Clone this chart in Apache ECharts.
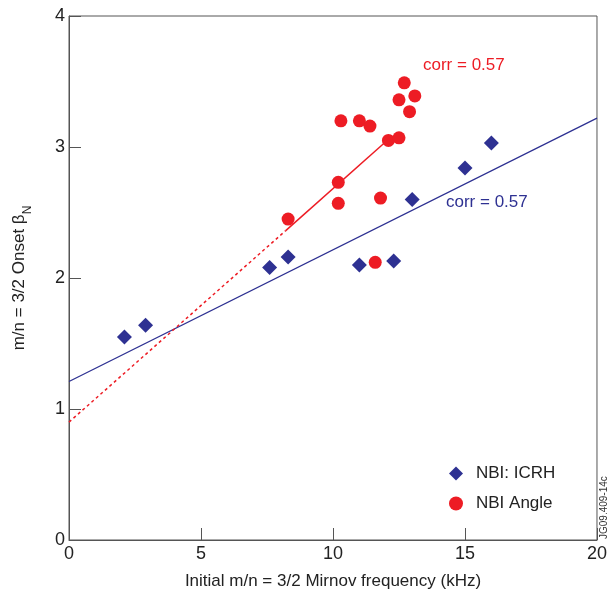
<!DOCTYPE html>
<html><head><meta charset="utf-8">
<script src="https://cdn.jsdelivr.net/npm/echarts@6/dist/echarts.min.js"></script>
<style>html,body{margin:0;padding:0;background:#fff}#c{width:610px;height:600px}</style>
</head><body><div id="c"></div>
<script>
// Data
const icrhX = [2.1, 2.9, 7.6, 8.3, 11.0, 12.3, 13.0, 15.0, 16.0];
const icrhY = [1.55, 1.64, 2.08, 2.16, 2.10, 2.13, 2.60, 2.84, 3.03];
const angleX = [8.3, 10.2, 10.2, 10.3, 11.0, 11.4, 12.1, 11.8, 11.6, 12.5, 12.5, 12.7, 12.9, 13.1];
const angleY = [2.45, 2.73, 2.57, 3.20, 3.20, 3.16, 3.05, 2.61, 2.12, 3.07, 3.36, 3.49, 3.27, 3.39];
const blueFitX = [0, 20];
const blueFitY = [1.21, 3.22];
const redDashX = [0, 8.2];
const redDashY = [0.90, 2.36];
const redSolidX = [8.2, 12.05];
const redSolidY = [2.36, 3.05];
const xTicks = [0, 5, 10, 15, 20];
const yTicks = [0, 1, 2, 3, 4];

const BLUE = '#2e3192', RED = '#ed1c24', AX = '#555';
const zip = (a, b) => a.map((v, i) => [v, b[i]]);
const FONT = 'Liberation Sans, Arial, sans-serif';

const chart = echarts.init(document.getElementById('c'), null, {renderer: 'canvas'});
chart.setOption({
  animation: false,
  textStyle: {fontFamily: FONT},
  grid: {left: 69, right: 13, top: 16, bottom: 60, show: true, borderColor: AX, borderWidth: 1},
  xAxis: {
    type: 'value', min: xTicks[0], max: xTicks[xTicks.length - 1], interval: 5,
    axisLine: {show: true, lineStyle: {color: AX}},
    axisTick: {show: true, inside: true, length: 12, lineStyle: {color: AX}},
    axisLabel: {color: '#222', fontSize: 18, margin: 5, fontFamily: FONT},
    splitLine: {show: false},
    name: 'Initial m/n = 3/2 Mirnov frequency (kHz)', nameLocation: 'middle', nameGap: 33,
    nameTextStyle: {color: '#222', fontSize: 17, fontFamily: FONT}
  },
  yAxis: {
    type: 'value', min: yTicks[0], max: yTicks[yTicks.length - 1], interval: 1,
    axisLine: {show: true, lineStyle: {color: AX}},
    axisTick: {show: true, inside: true, length: 12, lineStyle: {color: AX}},
    axisLabel: {color: '#222', fontSize: 18, margin: 4, fontFamily: FONT},
    splitLine: {show: false},
    name: '{a|m/n = 3/2 Onset β}{s|N}', nameLocation: 'middle', nameGap: 41, nameRotate: 90,
    nameTextStyle: {color: '#222', fontSize: 17, fontFamily: FONT,
      rich: {a: {fontSize: 17, color: '#222', fontFamily: FONT},
             s: {fontSize: 12, color: '#222', fontFamily: FONT, verticalAlign: 'bottom', padding: [0, 0, -6, 0]}}}
  },
  legend: {
    orient: 'vertical', left: 444, top: 460, itemGap: 13, itemWidth: 14, itemHeight: 14,
    textStyle: {color: '#222', fontSize: 17, fontFamily: FONT, padding: [0, 0, 0, 8]},
    data: [{name: 'NBI: ICRH', icon: 'diamond'}, {name: 'NBI Angle', icon: 'circle'}]
  },
  series: [
    {type: 'line', data: zip(blueFitX, blueFitY), symbol: 'none', lineStyle: {color: BLUE, width: 1.3}, silent: true, z: 1},
    {type: 'line', data: zip(redDashX, redDashY), symbol: 'none', lineStyle: {color: RED, width: 1.5, type: [3, 3]}, silent: true, z: 1},
    {type: 'line', data: zip(redSolidX, redSolidY), symbol: 'none', lineStyle: {color: RED, width: 1.5}, silent: true, z: 1},
    {name: 'NBI: ICRH', type: 'scatter', symbol: 'diamond', symbolSize: 15, itemStyle: {color: BLUE, opacity: 1}, data: zip(icrhX, icrhY), z: 3},
    {name: 'NBI Angle', type: 'scatter', symbol: 'circle', symbolSize: 13, itemStyle: {color: RED, opacity: 1}, data: zip(angleX, angleY), z: 4}
  ],
  graphic: [
    {type: 'text', left: 423, top: 57, style: {text: 'corr = 0.57', fill: RED, font: '17px ' + FONT}},
    {type: 'text', left: 446, top: 194, style: {text: 'corr = 0.57', fill: BLUE, font: '17px ' + FONT}},
    {type: 'text', x: 604, y: 539, rotation: Math.PI / 2, style: {text: 'JG09.409-14c', fill: '#333', font: '10px ' + FONT, align: 'left', verticalAlign: 'middle'}}
  ]
});
</script></body></html>
